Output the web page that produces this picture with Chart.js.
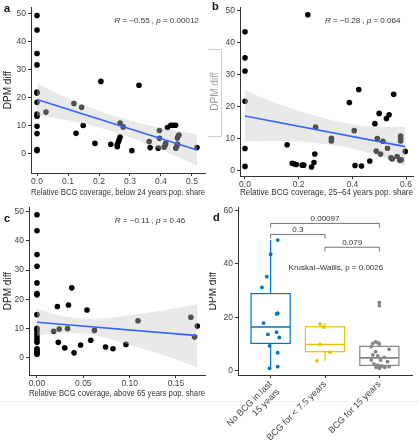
<!DOCTYPE html>
<html>
<head>
<title>BCG coverage vs DPM diff</title>
<script src="https://cdn.jsdelivr.net/npm/chart.js"></script>
<style>
  body { margin: 0; background: #fff; }
  #fig { position: relative; width: 419px; height: 440px; overflow: hidden; font-family: "Liberation Sans", Arial, sans-serif; }
  #fig canvas { position: absolute; }
  .tag { position: absolute; font-weight: bold; font-size: 11px; line-height: 1; color: #111; }
  .mask { position: absolute; left: 208px; top: 49px; width: 13px; height: 86px; border: 1px solid #cfcfcf; border-left: none; background: rgba(255,255,255,0.55); }
  .dots { position: absolute; left: 0; top: 401px; width: 419px; border-top: 1px dotted #e6e6e6; }
</style>
</head>
<body>
<div id="fig">
  <canvas id="chartA" width="209" height="200" style="left:0;top:0"></canvas>
  <canvas id="chartB" width="210" height="200" style="left:209px;top:0"></canvas>
  <canvas id="chartC" width="209" height="205" style="left:0;top:200px"></canvas>
  <canvas id="chartD" width="210" height="240" style="left:209px;top:200px"></canvas>
  <div class="mask"></div>
  <div class="dots"></div>
  <div class="tag" style="left:4px;top:3px">a</div>
  <div class="tag" style="left:212px;top:1px">b</div>
  <div class="tag" style="left:4px;top:213px">c</div>
  <div class="tag" style="left:213px;top:212px">d</div>
</div>
<script>
// ---- panel a: below 24 years
const aCoverage = [0, 0, 0, 0, 0, 0, 0, 0, 0, 0, 0, 0, 0,
  0.029, 0.119, 0.144, 0.126, 0.149, 0.187, 0.206, 0.268, 0.278, 0.238, 0.259, 0.259, 0.262, 0.265, 0.268,
  0.306, 0.329, 0.362, 0.365, 0.395, 0.395, 0.391, 0.421, 0.432, 0.44, 0.447, 0.41, 0.414, 0.415,
  0.448, 0.451, 0.453, 0.453, 0.456, 0.458, 0.516];
const aDpm = [49.4, 44.2, 35.8, 31.7, 22.0, 21.6, 18.3, 14.1, 13.3, 9.7, 7.1, 1.4, 1.0,
  14.8, 17.9, 16.5, 7.2, 10.0, 3.6, 25.8, 10.9, 9.5, 3.3, 2.4, 3.1, 4.0, 4.9, 5.9,
  1.0, 24.4, 4.3, 2.1, 8.2, 5.4, 1.9, 9.3, 10.1, 10.1, 10.1, 2.2, 3.0, 3.6,
  1.9, 2.6, 3.4, 5.5, 6.3, 6.6, 2.1];
const aFitX = [0, 0.516];
const aFitY = [19.3, 1.2];
const aBandX = [0, 0.1, 0.2, 0.3, 0.4, 0.516];
const aBandHi = [25.0, 19.7, 15.3, 11.8, 9.2, 6.8];
const aBandLo = [13.6, 11.9, 9.3, 5.8, 1.4, -4.4];

// ---- panel b: 25-64 years
const bCoverage = [0, 0, 0, 0, 0, 0,
  0.157, 0.176, 0.182, 0.191, 0.213, 0.219, 0.234, 0.248, 0.257, 0.26, 0.263, 0.322, 0.322,
  0.389, 0.407, 0.41, 0.424, 0.434, 0.465, 0.484, 0.489, 0.493, 0.5, 0.505, 0.514, 0.527,
  0.531, 0.537, 0.544, 0.549, 0.554, 0.567, 0.577, 0.582, 0.58, 0.58, 0.58, 0.597];
const bDpm = [43.4, 35.2, 31.1, 21.6, 6.8, 1.2,
  8.0, 2.2, 2.0, 1.8, 1.6, 1.6, 48.7, 1.0, 2.4, 5.1, 13.5, 10.0, 9.2,
  21.2, 12.4, 1.5, 25.3, 1.3, 2.9, 14.6, 6.0, 9.9, 17.8, 5.1, 9.1, 16.2,
  6.9, 17.4, 3.9, 3.6, 23.8, 4.3, 3.1, 3.3, 10.7, 10.0, 9.2, 5.9];
const bFitX = [0, 0.597];
const bFitY = [17.0, 7.4];
const bBandX = [0, 0.1, 0.2, 0.3, 0.4, 0.5, 0.597];
const bBandHi = [25.0, 21.6, 18.6, 16.2, 14.4, 13.6, 13.6];
const bBandLo = [9.0, 9.2, 9.0, 8.2, 6.8, 4.4, 1.3];

// ---- panel c: above 65 years
const cCoverage = [0, 0, 0, 0, 0, 0, 0, 0, 0, 0, 0, 0, 0, 0, 0, 0, 0, 0, 0,
  0.0375, 0.022, 0.034, 0.054, 0.018, 0.024, 0.033, 0.062, 0.023, 0.030, 0.040,
  0.047, 0.058, 0.074, 0.082, 0.096, 0.109, 0.166, 0.17, 0.173];
const cDpm = [49.0, 43.5, 35.3, 31.3, 25.6, 21.9, 21.5, 14.7, 10.0, 9.3, 8.1, 7.0, 6.1, 5.2, 3.0, 2.5, 2.0, 1.5, 1.1,
  23.9, 17.5, 18.0, 16.3, 9.0, 9.8, 9.9, 9.3, 5.2, 3.3, 1.6,
  4.3, 5.9, 3.6, 3.0, 4.5, 12.6, 13.8, 7.0, 10.8];
const cFitX = [0, 0.173];
const cFitY = [12.1, 7.5];
const cBandX = [0, 0.025, 0.05, 0.075, 0.1, 0.125, 0.15, 0.173];
const cBandHi = [16.7, 14.4, 13.4, 13.5, 14.4, 15.6, 16.9, 18.3];
const cBandLo = [7.5, 8.4, 8.2, 6.7, 4.4, 2.0, -0.7, -3.3];

const dpmTicks = [0, 10, 20, 30, 40, 50];

// ---- panel d: groups
const groupLabels = [['No BCG in last', '15 years'], 'BCG for < 7.5 years', 'BCG for 15 years'];
const groupColors = ['#0073C2', '#EFC000', '#868686'];
const boxQ1 = [10.3, 7.2, 2.1];
const boxMed = [16.4, 9.9, 4.9];
const boxQ3 = [28.9, 16.5, 9.2];
const whiskLo = [1.0, 3.8, 1.0];
const whiskHi = [48.9, 17.9, 10.9];
const dGroup = [1, 1, 1, 1, 1, 1, 1, 1, 1, 1, 1, 1, 1, 1,
  2, 2, 2, 2, 2,
  3, 3, 3, 3, 3, 3, 3, 3, 3, 3, 3, 3, 3, 3, 3, 3, 3, 3, 3, 3, 3, 3];
const dJitter = [0.13, 0, -0.07, -0.16, 0.13, 0.11, -0.13, -0.05, 0.11, 0.16, -0.02, 0.13, -0.02, 0.13,
  -0.09, -0.02, -0.09, 0.09, -0.15,
  -0.12, -0.07, -0.03, 0, -0.15, 0.18, -0.07, -0.12, -0.03, 0.09, -0.15, 0.02, 0.15, -0.1, -0.03, 0.04, 0.1, 0.18, 0, -0.06, 0, 0];
const dDpm = [48.9, 43.6, 35.2, 31.2, 21.6, 21.3, 17.9, 13.7, 14.5, 12.5, 9.4, 6.8, 1.0, 1.6,
  17.5, 16.4, 9.9, 7.0, 3.8,
  10.3, 10.9, 10.6, 10.1, 9.1, 8.1, 7.2, 6.0, 5.6, 5.1, 4.1, 4.1, 3.5, 2.6, 2.2, 1.9, 1.4, 1.6, 1.0, 1.4, 25.6, 24.4];
const dTicks = [0, 20, 40, 60];
const bracketFrom = [1, 1, 2];
const bracketTo = [3, 2, 3];
const bracketY = [55.1, 51.0, 46.2];
const bracketText = ['0.00097', '0.3', '0.079'];

Chart.defaults.font.family = '"Liberation Sans", Arial, sans-serif';
Chart.defaults.color = '#444';

const FONT = '"Liberation Sans", Arial, sans-serif';
const BAND = 'rgba(200,200,200,0.4)';
const pts = (xs, ys) => xs.map((v, i) => ({ x: v, y: ys[i] }));

// opaque white canvas background (semi-transparent fills vanish otherwise)
const whiteBg = {
  id: 'whiteBg',
  beforeDraw(chart) {
    const ctx = chart.ctx;
    ctx.save();
    ctx.fillStyle = '#fff';
    ctx.fillRect(0, 0, chart.width, chart.height);
    ctx.restore();
  }
};

// draws "R = .. , p = .." with italic R and p
const corText = {
  id: 'corText',
  afterDatasetsDraw(chart, args, o) {
    if (!o.parts) return;
    const { ctx, scales: { x, y } } = chart;
    let px = x.getPixelForValue(o.x);
    const py = y.getPixelForValue(o.y);
    ctx.save();
    ctx.fillStyle = '#333';
    ctx.textBaseline = 'middle';
    o.parts.forEach(([t, it]) => {
      ctx.font = (it ? 'italic ' : '') + '8px ' + FONT;
      ctx.fillText(t, px, py);
      px += ctx.measureText(t).width;
    });
    ctx.restore();
  }
};

function axisOpts(o) {
  return {
    x: {
      type: 'linear', min: o.xMin, max: o.xMax,
      afterBuildTicks: s => { s.ticks = o.xTicks.map(v => ({ value: v })); },
      afterFit: s => { s.height = o.xH; },
      ticks: { callback: o.xFmt, padding: 1, font: { size: o.xFont || 8.5 }, color: '#444', autoSkip: false, minRotation: o.rot || 0, maxRotation: o.rot || 0 },
      grid: { drawOnChartArea: false, tickLength: 3, tickColor: '#333' },
      border: { color: '#333', width: 1 },
      title: { display: !!o.xTitle, text: o.xTitle, font: { size: 8.7 }, color: '#333', padding: { top: 0, bottom: o.xTitlePad } }
    },
    y: {
      min: o.yMin, max: o.yMax,
      afterBuildTicks: s => { s.ticks = o.yTicks.map(v => ({ value: v })); },
      afterFit: s => { s.width = o.yW; },
      ticks: { padding: 2, font: { size: 8.5 }, color: '#444' },
      grid: { drawOnChartArea: false, tickLength: 3, tickColor: '#333' },
      border: { color: '#333', width: 1 },
      title: { display: true, text: 'DPM diff', font: { size: 10 }, color: '#222', padding: { top: o.yTitlePad, bottom: 0 } }
    }
  };
}

function scatterPanel(id, o) {
  new Chart(document.getElementById(id), {
    type: 'line',
    data: {
      datasets: [
        { data: pts(o.fitX, o.fitY), borderColor: '#3366FF', borderWidth: 1.6, pointRadius: 0, fill: false },
        { data: pts(o.bandX, o.bandHi), borderColor: 'rgba(0,0,0,0)', pointRadius: 0, fill: '+1',
          backgroundColor: BAND, cubicInterpolationMode: 'monotone' },
        { data: pts(o.bandX, o.bandLo), borderColor: 'rgba(0,0,0,0)', pointRadius: 0, fill: false, cubicInterpolationMode: 'monotone' },
        { data: pts(o.xs, o.ys), showLine: false, pointRadius: 2.8, pointBorderWidth: 0,
          pointBackgroundColor: '#000', backgroundColor: '#000' }
      ]
    },
    options: {
      responsive: false, animation: false, events: [],
      layout: { padding: o.pad },
      plugins: { legend: { display: false }, tooltip: { enabled: false }, corText: o.cor },
      scales: axisOpts(o)
    },
    plugins: [whiteBg, corText]
  });
}

scatterPanel('chartA', {
  xs: aCoverage, ys: aDpm, fitX: aFitX, fitY: aFitY, bandX: aBandX, bandHi: aBandHi, bandLo: aBandLo,
  xMin: -0.0194, xMax: 0.542, yMin: -7.0, yMax: 52.4, xTicks: [0, 0.1, 0.2, 0.3, 0.4, 0.5], yTicks: dpmTicks,
  xFmt: v => v.toFixed(1), xTitle: 'Relative BCG coverage, below 24 years pop. share',
  pad: { top: 3, right: 4, left: 0, bottom: 0 }, xH: 27, yW: 31, xTitlePad: 2, yTitlePad: 2,
  cor: { x: 0.25, y: 47.6, parts: [['R', true], [' = \u22120.55 , ', false], ['p', true], [' = 0.00012', false]] }
});

scatterPanel('chartB', {
  xs: bCoverage, ys: bDpm, fitX: bFitX, fitY: bFitY, bandX: bBandX, bandHi: bBandHi, bandLo: bBandLo,
  xMin: -0.0186, xMax: 0.626, yMin: -1.8, yMax: 51.1, xTicks: [0, 0.2, 0.4, 0.6], yTicks: dpmTicks,
  xFmt: v => v.toFixed(1), xTitle: 'Relative BCG coverage, 25\u201364 years pop. share',
  pad: { top: 3, right: 6, left: 0, bottom: 0 }, xH: 24, yW: 31, xTitlePad: 2, yTitlePad: 0,
  cor: { x: 0.298, y: 46.7, parts: [['R', true], [' = \u22120.28 , ', false], ['p', true], [' = 0.064', false]] }
});

scatterPanel('chartC', {
  xs: cCoverage, ys: cDpm, fitX: cFitX, fitY: cFitY, bandX: cBandX, bandHi: cBandHi, bandLo: cBandLo,
  xMin: -0.0086, xMax: 0.1813, yMin: -6.0, yMax: 51.6, xTicks: [0, 0.05, 0.1, 0.15], yTicks: dpmTicks,
  xFmt: v => v.toFixed(2), xTitle: 'Relative BCG coverage, above 65 years pop. share',
  pad: { top: 5, right: 4, left: 0, bottom: 0 }, xH: 30, yW: 29, xTitlePad: 6.5, yTitlePad: 2,
  cor: { x: 0.084, y: 46.8, parts: [['R', true], [' = \u22120.11 , ', false], ['p', true], [' = 0.46', false]] }
});

// box, whiskers, brackets for panel d
const boxPlot = {
  id: 'boxPlot',
  beforeDatasetsDraw(chart) {
    const { ctx, scales: { x, y } } = chart;
    ctx.save();
    ctx.lineWidth = 1.2;
    groupColors.forEach((col, i) => {
      const c = i + 1;
      const l = x.getPixelForValue(c - 0.36), r = x.getPixelForValue(c + 0.36), m = x.getPixelForValue(c);
      const q1 = y.getPixelForValue(boxQ1[i]), q3 = y.getPixelForValue(boxQ3[i]), md = y.getPixelForValue(boxMed[i]);
      ctx.strokeStyle = col;
      ctx.beginPath();
      ctx.moveTo(m, y.getPixelForValue(whiskHi[i])); ctx.lineTo(m, q3);
      ctx.moveTo(m, q1); ctx.lineTo(m, y.getPixelForValue(whiskLo[i]));
      ctx.stroke();
      ctx.strokeRect(l, q3, r - l, q1 - q3);
      ctx.lineWidth = 1.6;
      ctx.beginPath(); ctx.moveTo(l, md); ctx.lineTo(r, md); ctx.stroke();
      ctx.lineWidth = 1.2;
    });
    ctx.restore();
  },
  afterDatasetsDraw(chart) {
    const { ctx, scales: { x, y } } = chart;
    ctx.save();
    ctx.lineWidth = 1;
    ctx.strokeStyle = '#777';
    ctx.fillStyle = '#333';
    ctx.font = '8px ' + FONT;
    ctx.textAlign = 'center';
    ctx.textBaseline = 'alphabetic';
    bracketText.forEach((t, i) => {
      const x1 = x.getPixelForValue(bracketFrom[i]), x2 = x.getPixelForValue(bracketTo[i]);
      const yy = y.getPixelForValue(bracketY[i]), yd = y.getPixelForValue(bracketY[i] - 1.6);
      ctx.beginPath();
      ctx.moveTo(x1, yd); ctx.lineTo(x1, yy); ctx.lineTo(x2, yy); ctx.lineTo(x2, yd);
      ctx.stroke();
      ctx.fillText(t, (x1 + x2) / 2, yy - 2.5);
    });
    ctx.textBaseline = 'middle';
    ctx.fillText('Kruskal\u2013Wallis, p = 0.0026', x.getPixelForValue(2.2), y.getPixelForValue(38.4));
    ctx.restore();
  }
};

new Chart(document.getElementById('chartD'), {
  type: 'line',
  data: {
    datasets: groupColors.map((col, i) => ({
      data: dDpm.map((v, k) => ({ x: dGroup[k] + dJitter[k], y: v })).filter((p, k) => dGroup[k] === i + 1),
      showLine: false, pointRadius: 1.9, pointBorderWidth: 0, pointBackgroundColor: col, backgroundColor: col
    }))
  },
  options: {
    responsive: false, animation: false, events: [],
    layout: { padding: { top: 7, right: 7, left: 0, bottom: 0 } },
    plugins: { legend: { display: false }, tooltip: { enabled: false } },
    scales: axisOpts({
      xMin: 0.4, xMax: 3.6, xTicks: [1, 2, 3], xFmt: v => groupLabels[v - 1], rot: 45, xFont: 9,
      yMin: -1.5, yMax: 61.2, yTicks: dTicks, xH: 65, yW: 29, yTitlePad: -2
    })
  },
  plugins: [whiteBg, boxPlot]
});
</script>
</body>
</html>
